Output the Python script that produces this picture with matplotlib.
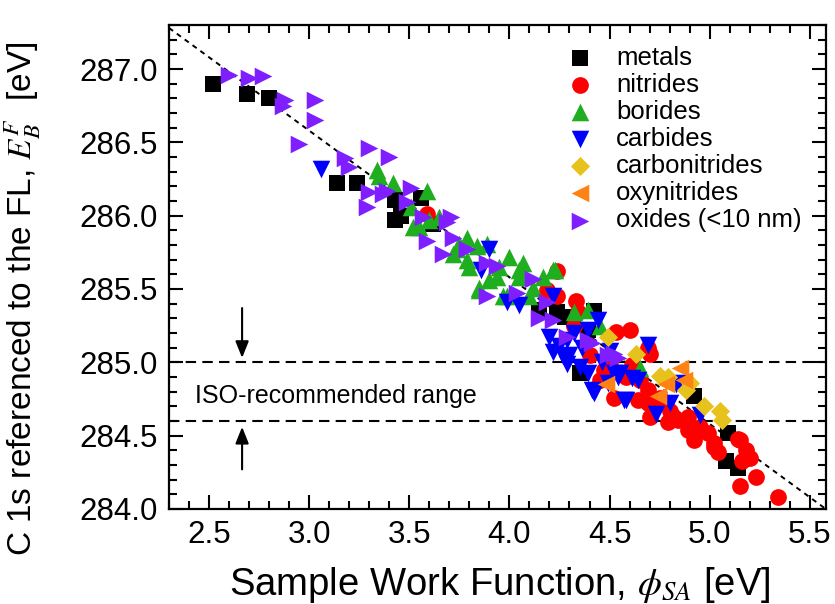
import matplotlib
matplotlib.use("Agg")
import matplotlib.pyplot as plt

plt.rcParams["font.family"] = ["Liberation Sans", "DejaVu Sans"]
plt.rcParams["mathtext.fontset"] = "stix"

# sample work function (eV) and C 1s binding energy (eV) for each group
metals_x = [2.52, 2.69, 2.80, 3.14, 3.24, 3.43, 3.46, 3.43, 3.56, 3.62, 4.15, 4.24,
            4.28, 4.42, 4.39, 4.35, 4.92, 5.09, 5.08, 5.14]
metals_y = [286.90, 286.83, 286.80, 286.22, 286.22, 285.97, 286.00, 286.11, 286.12,
            285.94, 285.36, 285.34, 285.31, 285.35, 285.22, 284.93, 284.77, 284.52,
            284.33, 284.28]

nitrides_x = [3.59, 4.19, 4.24, 4.24, 4.33, 4.34, 4.32, 4.45, 4.47, 4.52, 4.53, 4.60,
              4.61, 4.65, 4.64, 4.69, 4.69, 4.70, 4.69, 4.70, 4.75, 4.79, 4.80, 4.82,
              4.84, 4.89, 4.89, 4.92, 4.95, 4.99, 5.02, 5.02, 5.04, 5.14, 5.15, 5.18,
              5.16, 5.20, 5.23, 5.15, 5.34, 4.40, 4.50, 4.58]
nitrides_y = [286.01, 285.49, 285.62, 285.45, 285.42, 285.34, 285.25, 284.88, 284.95,
              284.76, 285.21, 285.22, 284.98, 284.88, 284.74, 285.10, 284.81, 285.06,
              284.72, 284.63, 284.76, 284.59, 284.67, 284.63, 284.61, 284.54, 284.63,
              284.47, 284.56, 284.52, 284.45, 284.42, 284.39, 284.48, 284.47, 284.40,
              284.33, 284.35, 284.22, 284.16, 284.08, 285.05, 285.00, 284.90]

borides_x = [3.34, 3.35, 3.42, 3.51, 3.52, 3.55, 3.59, 3.60, 3.65, 3.72, 3.74, 3.75,
             3.79, 3.79, 3.80, 3.84, 3.85, 3.85, 3.89, 3.90, 3.94, 3.97, 3.99, 4.00,
             4.05, 4.05, 4.07, 4.12, 4.17, 4.22, 4.23, 4.32, 4.39, 4.45, 4.65, 3.95,
             4.10]
borides_y = [286.31, 286.27, 286.22, 286.06, 285.92, 285.92, 286.17, 285.97, 285.99,
             285.74, 285.77, 285.81, 285.70, 285.85, 285.65, 285.79, 285.51, 285.49,
             285.81, 285.56, 285.58, 285.45, 285.45, 285.72, 285.63, 285.58, 285.68,
             285.51, 285.58, 285.63, 285.63, 285.34, 285.36, 285.25, 284.96, 285.65,
             285.45]

carbides_x = [3.06, 3.86, 3.90, 3.99, 4.05, 4.22, 4.20, 4.22, 4.25, 4.27, 4.29, 4.29,
              4.32, 4.35, 4.39, 4.39, 4.41, 4.42, 4.44, 4.49, 4.50, 4.52, 4.54, 4.55,
              4.57, 4.58, 4.61, 4.64, 4.69, 4.73, 4.80, 4.83, 4.85, 4.95, 4.30, 4.36,
              4.46]
carbides_y = [286.32, 285.63, 285.77, 285.41, 285.39, 285.45, 285.17, 285.07, 285.11,
              285.04, 285.15, 284.99, 285.20, 284.97, 285.22, 284.93, 284.81, 284.79,
              285.29, 284.86, 285.08, 284.93, 284.90, 284.93, 284.74, 284.74, 284.89,
              284.88, 285.12, 284.65, 284.72, 284.85, 284.86, 284.64, 285.05, 285.10,
              285.00]

carbonitrides_x = [4.49, 4.63, 4.75, 4.79, 4.88, 4.90, 4.97, 5.05, 5.06]
carbonitrides_y = [285.17, 285.06, 284.91, 284.90, 284.81, 284.86, 284.70, 284.67, 284.61]

oxynitrides_x = [4.48, 4.74, 4.78, 4.87, 4.85]
oxynitrides_y = [284.85, 284.77, 284.85, 284.88, 284.96]

oxides_x = [2.60, 2.70, 2.77, 2.87, 2.88, 2.95, 3.03, 3.03, 3.18, 3.20, 3.30, 3.40,
            3.30, 3.29, 3.37, 3.39, 3.49, 3.51, 3.57, 3.59, 3.67, 3.69, 3.71, 3.72,
            3.79, 3.89, 3.94, 3.89, 4.04, 4.12, 4.19, 4.15, 4.22, 4.29, 4.39, 4.41,
            4.49, 4.52, 4.54]
oxides_y = [286.96, 286.94, 286.95, 286.75, 286.79, 286.49, 286.79, 286.65, 286.39,
            286.33, 286.46, 286.40, 286.16, 286.06, 286.15, 286.17, 286.09, 286.19,
            285.99, 285.83, 285.74, 285.96, 285.99, 285.85, 285.77, 285.68, 285.66,
            285.45, 285.47, 285.57, 285.41, 285.30, 285.29, 285.17, 285.15, 285.13,
            285.05, 285.06, 285.03]

# E_B + phi = const
line_const = 289.58
iso_low, iso_high = 284.6, 285.0

fig = plt.figure(figsize=(8.35, 6.04), dpi=100)
ax = fig.add_axes([0.2024, 0.1573, 0.7866, 0.8013])

xl = (2.3, 5.58)
ax.plot(xl, [line_const - xl[0], line_const - xl[1]], color="black", lw=1.4,
        linestyle=(0, (2.6, 2.4)), zorder=1)
ax.axhline(iso_high, color="black", lw=1.5, linestyle=(0, (5, 3)), zorder=1)
ax.axhline(iso_low, color="black", lw=1.5, linestyle=(0, (5, 3)), zorder=1)

groups = [
    (metals_x, metals_y, "s", "#000000", 130, "metals"),
    (nitrides_x, nitrides_y, "o", "#ff0000", 145, "nitrides"),
    (borides_x, borides_y, "^", "#1fae1f", 160, "borides"),
    (carbides_x, carbides_y, "v", "#0000ff", 160, "carbides"),
    (carbonitrides_x, carbonitrides_y, "D", "#e8c21c", 95, "carbonitrides"),
    (oxynitrides_x, oxynitrides_y, "<", "#ff8214", 160, "oxynitrides"),
    (oxides_x, oxides_y, ">", "#7f1fff", 160, "oxides (<10 nm)"),
]
for gx, gy, m, c, s, lab in groups:
    ax.scatter(gx, gy, marker=m, color=c, s=s, linewidths=0, label=lab, zorder=2)

arrow = dict(arrowstyle="-|>,head_length=0.5,head_width=0.2", color="black",
             lw=1.5, mutation_scale=20, shrinkA=0, shrinkB=0)
ax.annotate("", xy=(2.665, 285.03), xytext=(2.665, 285.37), arrowprops=arrow)
ax.annotate("", xy=(2.665, 284.56), xytext=(2.665, 284.27), arrowprops=arrow)
ax.text(2.43, 284.77, "ISO-recommended range", fontsize=18, va="center", ha="left")

ax.set_xlim(*xl)
ax.set_ylim(284.0, 287.3)
ax.set_xticks([2.5, 3.0, 3.5, 4.0, 4.5, 5.0, 5.5])
ax.set_yticks([284.0, 284.5, 285.0, 285.5, 286.0, 286.5, 287.0])
ax.set_xticks([x / 10 for x in range(23, 56)], minor=True)
ax.set_yticks([284.0 + i / 10 for i in range(0, 34)], minor=True)
ax.xaxis.set_major_formatter(matplotlib.ticker.FormatStrFormatter("%.1f"))
ax.yaxis.set_major_formatter(matplotlib.ticker.FormatStrFormatter("%.1f"))
ax.tick_params(which="both", direction="in", top=True, right=True, width=1.5,
               labelsize=22.5, pad=8)
ax.tick_params(which="major", length=10)
ax.tick_params(which="minor", length=5.5)
for sp in ax.spines.values():
    sp.set_linewidth(1.6)

ax.set_xlabel("Sample Work Function, $\\phi_{SA}$ [eV]", fontsize=27.5)
ax.set_ylabel("C 1s referenced to the FL, $E_B^F$  [eV]", fontsize=24)
ax.xaxis.set_label_coords(0.504, -0.115)
ax.yaxis.set_label_coords(-0.192, 0.435)

ax.legend(loc="upper left", bbox_to_anchor=(0.606, 0.957), frameon=False,
          fontsize=18.5, handlelength=1.0, handletextpad=0.9, labelspacing=0.12,
          borderpad=0, borderaxespad=0, scatterpoints=1)

fig.savefig("out.png", dpi=100)
